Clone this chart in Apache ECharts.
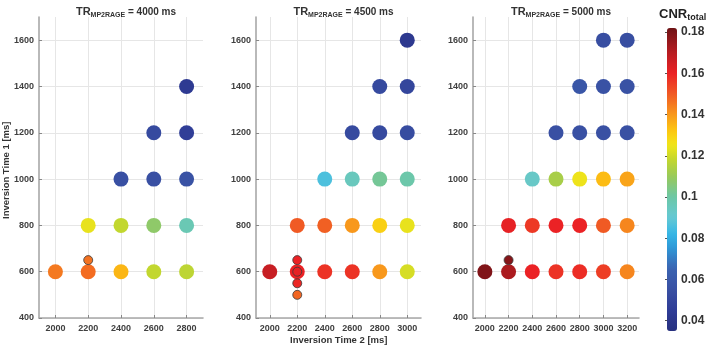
<!DOCTYPE html>
<html>
<head>
<meta charset="utf-8">
<script src="https://cdn.jsdelivr.net/npm/echarts@6/dist/echarts.min.js"></script>
<style>
html,body{margin:0;padding:0;background:#fff;}
#chart{width:709px;height:348px;}
</style>
</head>
<body>
<div id="chart"></div>
<script>
// ---- Data: [Inversion Time 2 (ms), Inversion Time 1 (ms), CNR_total] ----
var tr4000Big = [
  [2000, 600, 0.145], [2200, 600, 0.147], [2400, 600, 0.135], [2600, 600, 0.118], [2800, 600, 0.117],
  [2200, 800, 0.124], [2400, 800, 0.118], [2600, 800, 0.108], [2800, 800, 0.097],
  [2400, 1000, 0.055], [2600, 1000, 0.055], [2800, 1000, 0.056],
  [2600, 1200, 0.052], [2800, 1200, 0.046],
  [2800, 1400, 0.043]
];
var tr4000Small = [
  [2200, 650, 0.146]
];
var tr4500Big = [
  [2000, 600, 0.167], [2200, 600, 0.160], [2400, 600, 0.157], [2600, 600, 0.157], [2800, 600, 0.140], [3000, 600, 0.121],
  [2200, 800, 0.150], [2400, 800, 0.149], [2600, 800, 0.140], [2800, 800, 0.130], [3000, 800, 0.124],
  [2400, 1000, 0.086], [2600, 1000, 0.095], [2800, 1000, 0.102], [3000, 1000, 0.099],
  [2600, 1200, 0.052], [2800, 1200, 0.052], [3000, 1200, 0.053],
  [2800, 1400, 0.052], [3000, 1400, 0.050],
  [3000, 1600, 0.042]
];
var tr4500Small = [
  [2200, 650, 0.160], [2200, 600, 0.161], [2200, 550, 0.159], [2200, 500, 0.148]
];
var tr5000Big = [
  [2000, 600, 0.179], [2200, 600, 0.172], [2400, 600, 0.160], [2600, 600, 0.157], [2800, 600, 0.158], [3000, 600, 0.155], [3200, 600, 0.143],
  [2200, 800, 0.161], [2400, 800, 0.156], [2600, 800, 0.160], [2800, 800, 0.160], [3000, 800, 0.150], [3200, 800, 0.143],
  [2400, 1000, 0.093], [2600, 1000, 0.113], [2800, 1000, 0.125], [3000, 1000, 0.134], [3200, 1000, 0.138],
  [2600, 1200, 0.055], [2800, 1200, 0.055], [3000, 1200, 0.055], [3200, 1200, 0.055],
  [2800, 1400, 0.058], [3000, 1400, 0.056], [3200, 1400, 0.056],
  [3000, 1600, 0.054], [3200, 1600, 0.054]
];
var tr5000Small = [
  [2200, 650, 0.178]
];

var panelTitles = ['4000 ms', '4500 ms', '5000 ms'];
var xTicks1 = [2000, 2200, 2400, 2600, 2800];
var xTicks2 = [2000, 2200, 2400, 2600, 2800, 3000];
var xTicks3 = [2000, 2200, 2400, 2600, 2800, 3000, 3200];
var yTicks = [400, 600, 800, 1000, 1200, 1400, 1600];
var cbTicks = [0.04, 0.06, 0.08, 0.1, 0.12, 0.14, 0.16, 0.18];

// ---- colormap (style) ----
var cmin = 0.035, cmax = 0.182;
var cmapStops = [
  [0.035, '#27307f'], [0.045, '#2f3c96'], [0.055, '#3950a3'], [0.065, '#3b62b0'],
  [0.075, '#2f96d6'], [0.082, '#35b6e6'], [0.090, '#66c9d4'], [0.100, '#6cc7a6'],
  [0.110, '#98c95a'], [0.118, '#c2d62e'], [0.125, '#f0e61a'], [0.132, '#fdc811'],
  [0.140, '#f8981c'], [0.150, '#f05a24'], [0.160, '#eb2225'], [0.170, '#b81d22'],
  [0.182, '#6e1214']
];
function hex2rgb(h){return [parseInt(h.substr(1,2),16),parseInt(h.substr(3,2),16),parseInt(h.substr(5,2),16)];}
function colorAt(v){
  for (var i=0;i<cmapStops.length-1;i++){
    var a=cmapStops[i], b=cmapStops[i+1];
    if (v<=b[0]){
      var t=(v-a[0])/(b[0]-a[0]); var ca=hex2rgb(a[1]), cb=hex2rgb(b[1]);
      return 'rgb('+[0,1,2].map(function(k){return Math.round(ca[k]+(cb[k]-ca[k])*t);}).join(',')+')';
    }
  }
  return cmapStops[cmapStops.length-1][1];
}
var cmapList = [];
for (var k=0;k<=60;k++){ cmapList.push(colorAt(cmin+(cmax-cmin)*k/60)); }

var FONT = 'Liberation Sans';
var tickFont = {fontFamily: FONT, fontWeight: 'bold', fontSize: 9, color: '#404040',
  formatter: function(v){ return String(v); }};

var grids = [
  {left: 39, top: 17, width: 164, height: 301},
  {left: 256, top: 17, width: 165, height: 301},
  {left: 473, top: 17, width: 166, height: 301},
  {left: 667, top: 28, width: 10, height: 303}
];
var xRanges = [[1900, 2900, xTicks1], [1900, 3100, xTicks2], [1900, 3300, xTicks3]];

var xAxes = [], yAxes = [];
for (var g=0; g<3; g++){
  xAxes.push({
    type: 'value', gridIndex: g, min: xRanges[g][0], max: xRanges[g][1],
    axisLine: {show: true, onZero: false, lineStyle: {color: '#a8a8a8', width: 1.6}},
    axisTick: {show: true, inside: true, length: 3, customValues: xRanges[g][2], lineStyle: {color: '#888'}},
    axisLabel: Object.assign({customValues: xRanges[g][2], margin: 6}, tickFont),
    splitLine: {show: true, lineStyle: {color: '#e6e6e6', width: 1}}
  });
  yAxes.push({
    type: 'value', gridIndex: g, min: 400, max: 1700,
    axisLine: {show: true, onZero: false, lineStyle: {color: '#a8a8a8', width: 1.6}},
    axisTick: {show: true, inside: true, length: 3, customValues: yTicks, lineStyle: {color: '#888'}},
    axisLabel: Object.assign({customValues: yTicks, margin: 5}, tickFont),
    splitLine: {show: true, lineStyle: {color: '#e6e6e6', width: 1}}
  });
}
// colorbar label axis
xAxes.push({type: 'value', gridIndex: 3, show: false, min: 0, max: 1});
yAxes.push({
  type: 'value', gridIndex: 3, position: 'right', min: cmin, max: cmax,
  axisLine: {show: false},
  axisTick: {show: true, inside: true, length: 2, customValues: cbTicks, lineStyle: {color: '#555'}},
  axisLabel: {customValues: cbTicks, margin: 4, fontFamily: FONT, fontWeight: 'bold', fontSize: 12, color: '#333',
    formatter: function(v){ return String(Math.round(v*100)/100); }},
  splitLine: {show: false}
});

var bigSets = [tr4000Big, tr4500Big, tr5000Big];
var smallSets = [tr4000Small, tr4500Small, tr5000Small];
var series = [];
for (var s=0; s<3; s++){
  series.push({
    type: 'scatter', xAxisIndex: s, yAxisIndex: s, data: bigSets[s], symbolSize: 15,
    itemStyle: {opacity: 1}, z: 2, silent: true
  });
}
for (var s2=0; s2<3; s2++){
  series.push({
    type: 'scatter', xAxisIndex: s2, yAxisIndex: s2, data: smallSets[s2], symbolSize: 9,
    itemStyle: {opacity: 1, borderColor: '#3a3a3a', borderWidth: 0.8}, z: 3, silent: true
  });
}

var titles = [];
for (var t=0; t<3; t++){
  titles.push({
    text: '{a|TR}{b|MP2RAGE}{c| = ' + panelTitles[t] + '}',
    left: grids[t].left + grids[t].width/2, top: 1, textAlign: 'center',
    textStyle: {
      rich: {
        a: {fontFamily: FONT, fontWeight: 'bold', fontSize: 11, color: '#333', lineHeight: 12},
        b: {fontFamily: FONT, fontWeight: 'bold', fontSize: 7, color: '#333', lineHeight: 8, padding: [7, 0, 0, 0]},
        c: {fontFamily: FONT, fontWeight: 'bold', fontSize: 10, color: '#333', lineHeight: 12}
      }
    }
  });
}
titles.push({
  text: '{a|CNR}{b|total}', left: 654, top: 2,
  textStyle: {rich: {
    a: {fontFamily: FONT, fontWeight: 'bold', fontSize: 13, color: '#222', lineHeight: 14},
    b: {fontFamily: FONT, fontWeight: 'bold', fontSize: 9, color: '#222', lineHeight: 9, padding: [8, 0, 0, 0]}
  }}
});

var chart = echarts.init(document.getElementById('chart'), null, {renderer: 'canvas'});
chart.setOption({
  animation: false,
  backgroundColor: '#ffffff',
  title: titles,
  grid: grids,
  xAxis: xAxes,
  yAxis: yAxes,
  visualMap: {
    type: 'continuous', min: cmin, max: cmax, dimension: 2,
    seriesIndex: [0, 1, 2, 3, 4, 5],
    inRange: {color: cmapList},
    left: 667, top: 28, itemWidth: 10, itemHeight: 303, padding: 0,
    calculable: false, realtime: false, text: null, showLabel: false, hoverLink: false
  },
  graphic: [
    {type: 'text', left: 290, top: 335,
     style: {text: 'Inversion Time 2 [ms]', font: 'bold 9.5px "Liberation Sans"', fill: '#333'}},
    {type: 'text', rotation: Math.PI/2, x: 1, y: 219,
     style: {text: 'Inversion Time 1 [ms]', font: 'bold 9.5px "Liberation Sans"', fill: '#333', textVerticalAlign: 'top'}}
  ],
  series: series
});
</script>
</body>
</html>
